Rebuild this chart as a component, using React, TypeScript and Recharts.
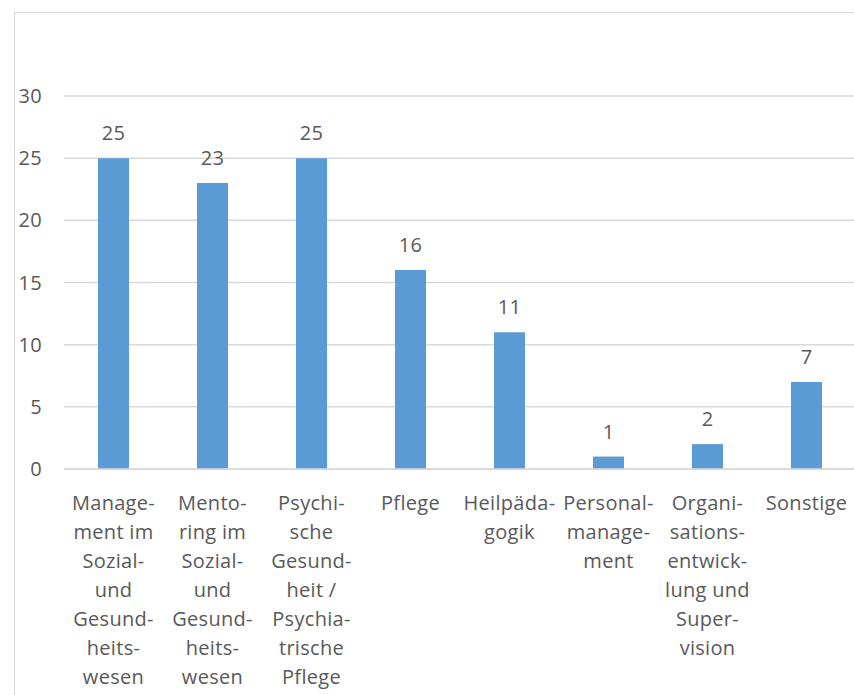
import { BarChart, Bar, XAxis, YAxis, CartesianGrid, LabelList } from "recharts";

const categories = [
  "Management im Sozial- und Gesundheitswesen",
  "Mentoring im Sozial- und Gesundheitswesen",
  "Psychische Gesundheit / Psychiatrische Pflege",
  "Pflege",
  "Heilpädagogik",
  "Personalmanagement",
  "Organisationsentwicklung und Supervision",
  "Sonstige",
];

// wrapped tick labels, one array of lines per category
const tickLines = [
  ["Manage-", "ment im", "Sozial-", "und", "Gesund-", "heits-", "wesen"],
  ["Mento-", "ring im", "Sozial-", "und", "Gesund-", "heits-", "wesen"],
  ["Psychi-", "sche", "Gesund-", "heit /", "Psychia-", "trische", "Pflege"],
  ["Pflege"],
  ["Heilpäda-", "gogik"],
  ["Personal-", "manage-", "ment"],
  ["Organi-", "sations-", "entwick-", "lung und", "Super-", "vision"],
  ["Sonstige"],
];

const counts = [25, 23, 25, 16, 11, 1, 2, 7];
const yTicks = [0, 5, 10, 15, 20, 25, 30];

const data = categories.map((name, i) => ({ name, value: counts[i] }));

const FONT = "'Open Sans', sans-serif";
const FS = 20;
const SPACING = 0.3;
const TEXT = "#595959";

function WrappedTick(props: any) {
  const { x, y, index } = props;
  const lines = tickLines[index] || [];
  return (
    <text
      x={x}
      y={y}
      textAnchor="middle"
      fill={TEXT}
      fontSize={FS}
      fontFamily={FONT}
      letterSpacing={SPACING}
    >
      {lines.map((line, i) => (
        <tspan key={i} x={x} dy={i === 0 ? 33 : 29}>
          {line}
        </tspan>
      ))}
    </text>
  );
}

export default function App() {
  return (
    <div
      style={{
        position: "absolute",
        left: 0,
        top: 0,
        width: 854,
        height: 695,
        overflow: "hidden",
        background: "#fff",
      }}
    >
      <div
        style={{
          position: "absolute",
          left: 14,
          top: 12,
          width: 900,
          height: 800,
          border: "1.5px solid #d9d9d9",
        }}
      />
      <div style={{ position: "absolute", left: 0, top: 0 }}>
        <BarChart
          width={860}
          height={695}
          data={data}
          margin={{ top: 96, right: 4, bottom: 0, left: 0 }}
        >
          <CartesianGrid vertical={false} stroke="#d9d9d9" strokeWidth={1.5} />
          <XAxis
            dataKey="name"
            interval={0}
            tickLine={false}
            axisLine={{ stroke: "#d9d9d9", strokeWidth: 1.5 }}
            tick={<WrappedTick />}
            height={226}
          />
          <YAxis
            width={64}
            domain={[0, 30]}
            ticks={yTicks}
            interval={0}
            axisLine={false}
            tickLine={false}
            tickSize={0}
            tickMargin={22}
            tick={{ fill: TEXT, fontSize: FS, fontFamily: FONT, letterSpacing: SPACING }}
          />
          <Bar dataKey="value" fill="#5b9bd5" barSize={31} isAnimationActive={false}>
            <LabelList
              dataKey="value"
              position="top"
              offset={18}
              fill={TEXT}
              fontSize={FS}
              fontFamily={FONT}
              letterSpacing={SPACING}
            />
          </Bar>
        </BarChart>
      </div>
    </div>
  );
}
